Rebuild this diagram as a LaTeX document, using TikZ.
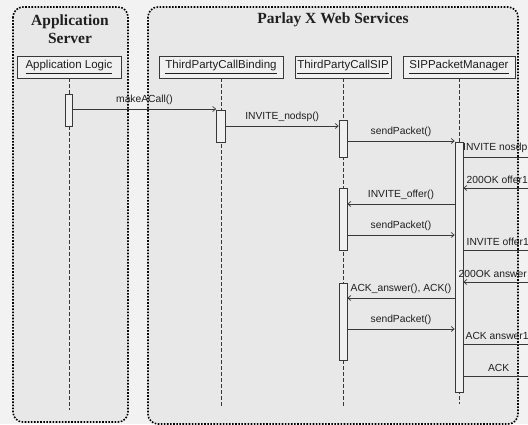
\documentclass[tikz,border=0pt]{standalone}
\usepackage{fontspec}
\setmainfont{Liberation Sans}
\newfontfamily\titlefont{Liberation Serif}
\usetikzlibrary{arrows.meta,positioning}

\definecolor{cbg}{rgb}{0.95,0.95,0.95}
\definecolor{cgroup}{rgb}{0.91,0.91,0.91}
\definecolor{chead}{rgb}{0.94,0.94,0.94}
\definecolor{cline}{rgb}{0.22,0.22,0.22}
\definecolor{ctext}{rgb}{0.12,0.12,0.12}

\tikzset{
  group/.style={draw=black, line width=1.6pt, dash pattern=on 1.6pt off 1.5pt,
    rounded corners=10pt, fill=cgroup},
  grouptitle/.style={font=\titlefont\bfseries\fontsize{15.5}{18}\selectfont,
    align=center, text=ctext},
  head/.style={draw=cline, fill=chead, line width=0.6pt, minimum height=22pt,
    inner sep=2pt, text=ctext, font=\fontsize{11.5}{13}\selectfont},
  life/.style={draw=cline, line width=0.6pt, dash pattern=on 4pt off 2pt},
  act/.style={draw=cline, fill=chead, line width=0.6pt, minimum width=8pt, inner sep=0pt},
  msg/.style={draw=cline, line width=0.7pt, -{Straight Barb[length=3pt,width=5pt]}},
  lbl/.style={font=\fontsize{10.3}{12}\selectfont, inner sep=1pt, text=ctext}
}

\begin{document}
\begin{tikzpicture}[x=1pt, y=-1pt]
%
\useasboundingbox (0,0) rectangle (528,424);
\fill[cbg] (0,0) rectangle (528,424);
%
% groups
\draw[group] (13,7) rectangle (128,422);
\draw[group] (148,7) rectangle (518,424);
\node[grouptitle] (tas) at (70,29) {Application\\Server};
\node[grouptitle] (tpx) at (333,20) {Parlay X Web Services};
%
% lifeline heads
\node[head, minimum width=104pt] (alh) at (69,67) {\underline{Application Logic}};
\node[head, minimum width=124pt] (tbh) at (221,67) {\underline{ThirdPartyCallBinding}};
\node[head, minimum width=96pt] (tsh) at (343,67) {\underline{ThirdPartyCallSIP}};
\node[head, minimum width=112pt] (sph) at (459,67) {\underline{SIPPacketManager}};
%
\draw[life] (alh.south) -- (alh.south |- 0,410);
\draw[life] (tbh.south) -- (tbh.south |- 0,407);
\draw[life] (tsh.south) -- (tsh.south |- 0,407);
\draw[life] (sph.south) -- (sph.south |- 0,404);
%
% activations
\node[act, minimum width=7pt, minimum height=32pt] (al1) at (69,110) {};
\node[act, minimum width=9pt, minimum height=32pt] (tb1) at (221,126) {};
\node[act, minimum height=37pt] (ts1) at (343,138.5) {};
\node[act, minimum height=62pt] (ts2) at (343,219) {};
\node[act, minimum height=77pt] (ts3) at (343,321.5) {};
\node[act, minimum height=250pt] (sp1) at (459,267) {};
%
\coordinate (rim) at (534,0);
%
% messages
\draw[msg] (al1.east |- 0,109) -- (tb1.west |- 0,109)
  node[lbl, midway, above=3pt] {makeACall()};
\draw[msg] (tb1.east |- 0,126) -- (ts1.west |- 0,126)
  node[lbl, midway, above=3pt] {INVITE\_nodsp()};
\draw[msg] (ts1.east |- 0,141) -- (sp1.west |- 0,141)
  node[lbl, midway, above=3pt] {sendPacket()};
\draw[msg] (sp1.east |- 0,157) -- (rim |- 0,157)
  node[lbl, pos=0, anchor=south west, inner sep=0.5pt, xshift=-1pt, yshift=3.5pt] {INVITE nosdp};
\draw[msg] (rim |- 0,188) -- (sp1.east |- 0,188)
  node[lbl, pos=1, anchor=south west, xshift=2pt, yshift=3pt] {200OK offer1};
\draw[msg] (sp1.west |- 0,204) -- (ts2.east |- 0,204)
  node[lbl, midway, above=3pt] {INVITE\_offer()};
\draw[msg] (ts2.east |- 0,235) -- (sp1.west |- 0,235)
  node[lbl, midway, above=3pt] {sendPacket()};
\draw[msg] (sp1.east |- 0,250) -- (rim |- 0,250)
  node[lbl, pos=0, anchor=south west, xshift=2pt, yshift=3pt] {INVITE offer1};
\draw[msg] (rim |- 0,282) -- (sp1.east |- 0,282)
  node[lbl, pos=1, anchor=south west, xshift=-6pt, yshift=3pt] {200OK answer};
\draw[msg] (sp1.west |- 0,298) -- (ts3.east |- 0,298)
  node[lbl, midway, above=3pt] {ACK\_answer(), ACK()};
\draw[msg] (ts3.east |- 0,329) -- (sp1.west |- 0,329)
  node[lbl, midway, above=3pt] {sendPacket()};
\draw[msg] (sp1.east |- 0,344) -- (rim |- 0,344)
  node[lbl, pos=0, anchor=south west, xshift=1pt, yshift=3pt] {ACK answer1};
\draw[msg] (sp1.east |- 0,376) -- (rim |- 0,376)
  node[lbl, midway, above=3pt] {ACK};
%
\end{tikzpicture}
\end{document}
